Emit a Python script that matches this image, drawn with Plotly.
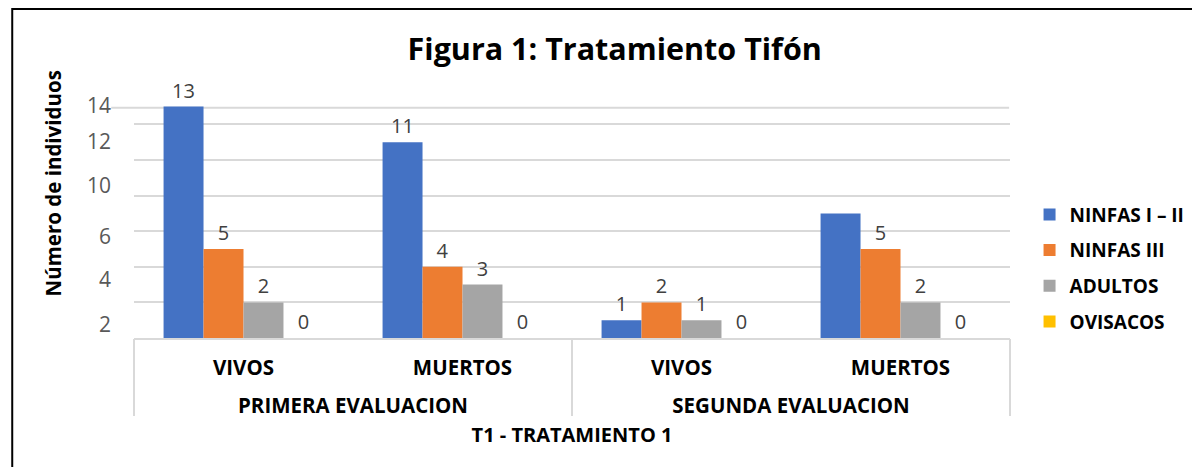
import plotly.graph_objects as go

# data
evaluaciones = ["PRIMERA EVALUACION", "SEGUNDA EVALUACION"]
estados = ["VIVOS", "MUERTOS", "VIVOS", "MUERTOS"]

series = ["NINFAS I – II", "NINFAS III", "ADULTOS", "OVISACOS"]
ninfas_1_2 = [13, 11, 1, 7]
ninfas_3 = [5, 4, 2, 5]
adultos = [2, 3, 1, 2]
ovisacos = [0, 0, 0, 0]
ninfas_1_2_labels = ["13", "11", "1", ""]  # the 7 carries no label in the original

colors = ["#4472C4", "#ED7D31", "#A5A5A5", "#FFC000"]

# the y labels in the original sit off the gridlines
ytick_text = ["2", "4", "6", "10", "12", "14"]
ytick_pos = [0.75, 3.28, 5.71, 8.56, 11.04, 13.05]
top_line = 12.93

FONT = "Open Sans, Lato, sans-serif"
GRID = "#D9D9D9"

x_pos = list(range(len(estados)))

fig = go.Figure()

values = [ninfas_1_2, ninfas_3, adultos, ovisacos]
for i, (name, vals) in enumerate(zip(series, values)):
    labels = ninfas_1_2_labels if i == 0 else [str(v) for v in vals]
    fig.add_trace(go.Bar(
        x=x_pos,
        y=vals,
        name=name,
        marker=dict(color=colors[i], line=dict(width=0)),
        text=labels,
        textposition="outside",
        cliponaxis=False,
        textfont=dict(family=FONT, size=20, color="#404040"),
        legendgroup=name,
    ))

# invisible trace for the second level of x labels and the odd y tick labels
fig.add_trace(go.Scatter(x=[None], y=[None], xaxis="x2", yaxis="y2",
                         showlegend=False, hoverinfo="skip"))

# the page body adds 8px of margin, so the figure is a bit smaller than the window
fig.update_layout(
    width=1192, height=459,
    margin=dict(l=126, r=190, t=92, b=129),
    paper_bgcolor="white",
    plot_bgcolor="white",
    font=dict(family=FONT, color="black"),
    title=dict(text="<b>Figura 1: Tratamiento Tifón</b>",
               x=0.509, xanchor="center", y=0.91, yanchor="middle",
               font=dict(size=30.5, family=FONT, color="black")),
    barmode="group",
    bargap=0.27,
    bargroupgap=0,
    showlegend=True,
    legend=dict(xref="container", x=0.857, xanchor="left", y=0.294, yanchor="middle",
                font=dict(size=19, family=FONT, color="black", weight="bold"),
                traceorder="grouped", tracegroupgap=8,
                itemclick=False),
    xaxis=dict(
        automargin=False,
        range=[-0.5, len(estados) - 0.5],
        tickvals=x_pos, ticktext=estados,
        showgrid=False, zeroline=False,
        showline=True, linecolor=GRID, linewidth=2,
        ticks="", ticklabelstandoff=10,
        tickfont=dict(size=20.5, family=FONT, color="black", weight="bold"),
        title=dict(text="<b>T1 - TRATAMIENTO 1</b>", font=dict(size=20, family=FONT, color="black"),
                   standoff=48),
    ),
    xaxis2=dict(
        automargin=False,
        overlaying="x", anchor="y", side="bottom",
        range=[-0.5, len(evaluaciones) - 0.5],
        tickvals=list(range(len(evaluaciones))), ticktext=evaluaciones,
        showgrid=False, zeroline=False, showline=False,
        ticks="", ticklabelstandoff=53,
        tickfont=dict(size=20.5, family=FONT, color="black", weight="bold"),
        minor=dict(tickvals=[k - 0.5 for k in range(len(evaluaciones) + 1)],
                   ticks="outside", ticklen=77, tickwidth=2, tickcolor=GRID,
                   showgrid=False),
    ),
    yaxis=dict(
        automargin=False,
        range=[0, 13.37],
        tickvals=[2, 4, 6, 8, 10, 12],
        showticklabels=False,
        showgrid=True, gridcolor=GRID, gridwidth=2,
        zeroline=False,
    ),
    yaxis2=dict(
        automargin=False,
        overlaying="y", side="left",
        range=[0, 13.37],
        tickvals=ytick_pos, ticktext=ytick_text,
        showgrid=False, zeroline=False, showline=False,
        ticklabelstandoff=22,
        tickfont=dict(size=21, family=FONT, color="#595959"),
    ),
)

# y axis title sits above the plot's centre in the original
fig.add_annotation(text="<b>Número de individuos</b>", textangle=-90,
                   xref="paper", yref="paper", x=-0.092, y=0.651,
                   xanchor="center", yanchor="middle", showarrow=False,
                   font=dict(size=20.5, family=FONT, color="black"))

# top gridline that runs out past the axis in the original
fig.add_shape(type="line", xref="paper", yref="y",
              x0=-0.026, x1=0.999, y0=top_line, y1=top_line,
              line=dict(color=GRID, width=2), layer="below")

# chart border
fig.add_shape(type="rect", xref="paper", yref="paper",
              x0=-0.139, x1=1.25, y0=-0.6, y1=1.382,
              line=dict(color="black", width=2))

fig.write_html("out.html")
